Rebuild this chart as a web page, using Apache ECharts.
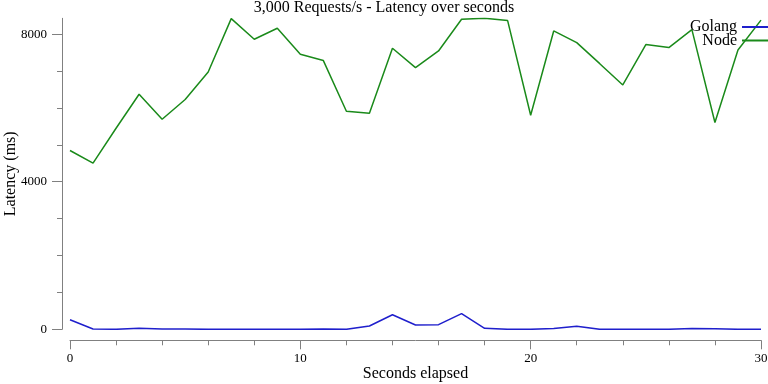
<!DOCTYPE html>
<html>
<head>
<meta charset="utf-8">
<script src="https://cdn.jsdelivr.net/npm/echarts@6/dist/echarts.min.js"></script>
<style>
  html, body { margin: 0; padding: 0; background: #fff; }
  #chart { width: 768px; height: 384px; }
</style>
</head>
<body>
<div id="chart"></div>
<script>
// seconds elapsed (x)
var seconds = [0,1,2,3,4,5,6,7,8,9,10,11,12,13,14,15,16,17,18,19,20,21,22,23,24,25,26,27,28,29,30];
// latency in ms
var golang = [260,10,0,27,5,5,0,0,0,0,0,10,0,90,395,116,125,423,27,0,0,20,80,0,0,0,0,25,15,0,0];
var node = [4847,4504,5450,6372,5695,6228,6976,8422,7861,8159,7455,7284,5912,5858,7618,7095,7545,8403,8430,8368,5803,8087,7772,7200,6624,7718,7637,8124,5606,7572,8380];
var majorTicks = [0, 4000, 8000];
var minorTicks = [1000, 2000, 3000, 5000, 6000, 7000];

var font = 'Liberation Serif';
var axisGray = '#808080';

function pairs(ys){
    var out = [];
    for (var i = 0; i < seconds.length; i++) out.push([seconds[i], ys[i]]);
    return out;
}
function plain(v){ return String(v); }

var yMax = Math.max.apply(null, node);

var myChart = echarts.init(document.getElementById('chart'));
myChart.setOption({
    animation: false,
    title: {
        text: '3,000 Requests/s - Latency over seconds',
        left: 'center',
        top: -5,
        textStyle: { fontFamily: font, fontSize: 16, fontWeight: 'normal', color: '#000' }
    },
    legend: {
        orient: 'vertical',
        right: -2,
        top: 19,
        padding: 0,
        align: 'right',
        icon: 'rect',
        itemWidth: 28,
        itemHeight: 2,
        itemGap: -2.5,
        textStyle: { fontFamily: font, fontSize: 16, color: '#000', lineHeight: 14 },
        data: ['Golang', 'Node']
    },
    grid: { left: 70, right: 7, top: 18.3, bottom: 54.7, containLabel: false, outerBoundsMode: 'none' },
    xAxis: {
        type: 'value',
        min: 0,
        max: 30,
        interval: 10,
        offset: 11,
        name: 'Seconds elapsed',
        nameLocation: 'middle',
        nameGap: 25,
        nameMoveOverlap: false,
        nameTextStyle: { fontFamily: font, fontSize: 16, color: '#000' },
        axisLine: { onZero: false, lineStyle: { color: axisGray, width: 1 } },
        axisTick: { length: 9, lineStyle: { color: axisGray } },
        minorTick: { show: true, splitNumber: 5, length: 5, lineStyle: { color: axisGray } },
        axisLabel: { fontFamily: font, fontSize: 13, color: '#000', margin: 12, formatter: plain },
        splitLine: { show: false }
    },
    yAxis: [{
        type: 'value',
        min: 0,
        max: yMax,
        offset: 8,
        name: 'Latency (ms)',
        nameLocation: 'middle',
        nameGap: 43,
        nameMoveOverlap: false,
        nameTextStyle: { fontFamily: font, fontSize: 16, color: '#000' },
        axisLine: { show: true, onZero: false, lineStyle: { color: axisGray, width: 1 } },
        axisTick: { show: true, length: 10, customValues: majorTicks, lineStyle: { color: axisGray } },
        axisLabel: { fontFamily: font, fontSize: 13, color: '#000', margin: 15, customValues: majorTicks, formatter: plain },
        splitLine: { show: false }
    }, {
        type: 'value',
        min: 0,
        max: yMax,
        position: 'left',
        offset: 8,
        axisLine: { show: false, onZero: false },
        axisTick: { show: true, length: 5, customValues: minorTicks, lineStyle: { color: axisGray } },
        axisLabel: { show: false },
        splitLine: { show: false }
    }],
    series: [{
        name: 'Golang',
        type: 'line',
        yAxisIndex: 0,
        showSymbol: false,
        color: '#1f1fcc',
        lineStyle: { width: 1.5 },
        data: pairs(golang)
    }, {
        name: 'Node',
        type: 'line',
        yAxisIndex: 0,
        showSymbol: false,
        color: '#1a8a1a',
        lineStyle: { width: 1.5 },
        data: pairs(node)
    }]
});
</script>
</body>
</html>
